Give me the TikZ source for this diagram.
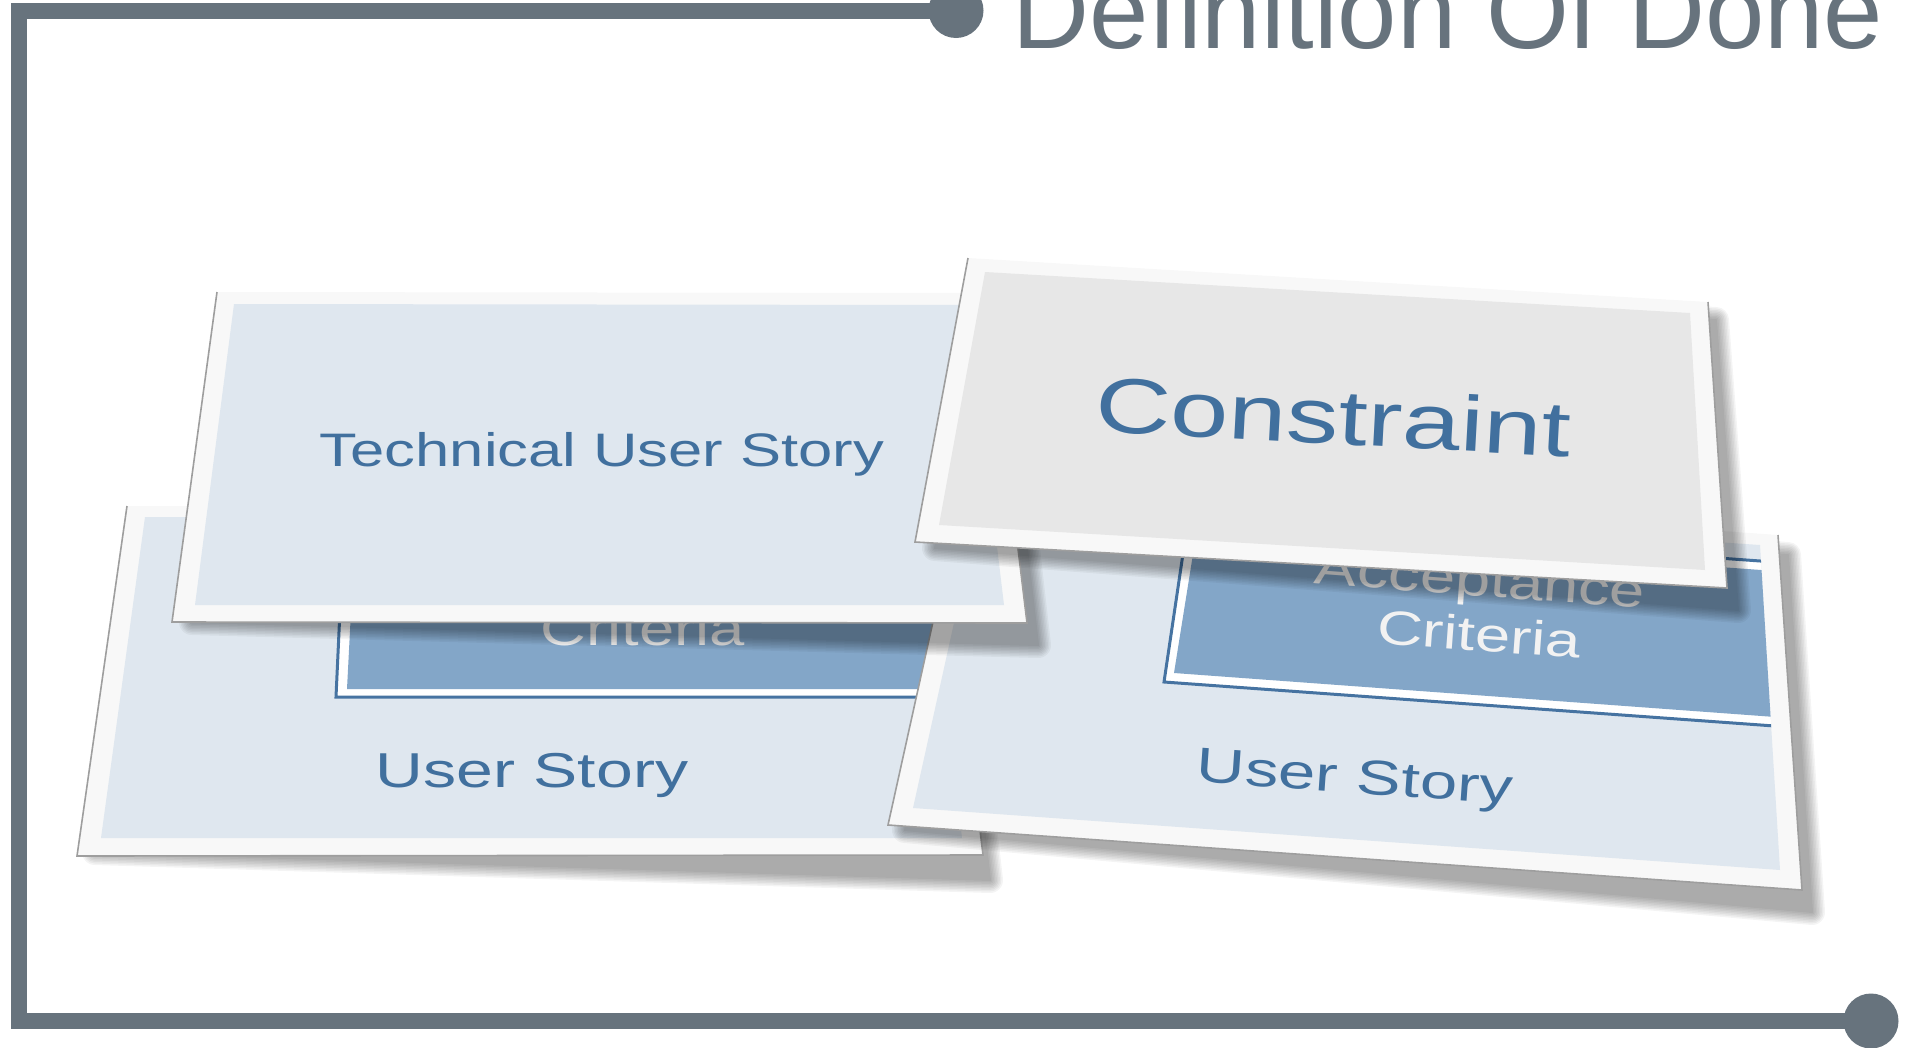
\documentclass[tikz,border=0pt]{standalone}
\usepackage{fontspec}
\setmainfont{Liberation Sans}
\usetikzlibrary{positioning}

\definecolor{frameGray}{HTML}{67737D}
\definecolor{cardEdge}{HTML}{F8F8F8}
\definecolor{cardBlue}{HTML}{DFE7EF}
\definecolor{cardGray}{HTML}{E7E7E7}
\definecolor{boxBlue}{HTML}{83A6C8}
\definecolor{boxLine}{HTML}{4673A1}
\definecolor{storyBlue}{HTML}{41709E}
\definecolor{boxText}{HTML}{F2F2F2}

\newcommand\cardShadow[1]{%
  \foreach \w in {2,5,...,26} {%
    \begin{scope}[transparency group, opacity=0.045]
      \filldraw[black, line width=\w pt, line join=round] #1;
    \end{scope}}}

\begin{document}
\begin{tikzpicture}[x=1pt, y=-1pt,
  frameLine/.style={draw=frameGray, line width=16pt},
  frameDot/.style={circle, fill=frameGray, inner sep=0pt, minimum size=55pt},
  cardRimEdge/.style={draw=black!38, line width=1.6pt},
  boxFrame/.style={fill=white, draw=boxLine, line width=3pt},
  storyText/.style={text=storyBlue, inner sep=0pt, anchor=base,
    font=\fontsize{49}{52}\selectfont},
  criteriaText/.style={text=boxText, inner sep=0pt, anchor=base,
    font=\fontsize{48}{52}\selectfont},
  titleText/.style={text=frameGray, inner sep=0pt, anchor=base west,
    font=\fontsize{106.6}{110}\selectfont}]
  \useasboundingbox (0,0) rectangle (1919,1047);

  \coordinate (topEnd) at (956,10.5);
  \coordinate (frameTopLeft) at (19,10.5);
  \coordinate (frameBottomLeft) at (19,1021);
  \coordinate (bottomEnd) at (1871,1021);
  \draw[frameLine] (topEnd) -- (frameTopLeft) -- (frameBottomLeft) -- (bottomEnd);
  \node[frameDot] (topDot) at (topEnd) {};
  \node[frameDot] (bottomDot) at (bottomEnd) {};
  \node[titleText] (title) at (1012,48) {Definition Of Done};

  \cardShadow{(150,530) -- (950,530) -- (990,880) -- (95,852) -- cycle}
  \fill[cardEdge] (127,506) -- (941,506) -- (983,855) -- (77,856) -- cycle;
  \draw[cardRimEdge] (127,506) -- (77,856) -- (983,855) -- (941,506);
  \fill[cardBlue] (145,517) -- (923,517) -- (962,838) -- (101,838) -- cycle;
  \begin{scope}
    \clip (145,517) -- (923,517) -- (962,838) -- (101,838) -- cycle;
    \filldraw[boxFrame] (343,545) -- (1000,545) -- (1000,697) -- (336,697) -- cycle;
    \fill[boxBlue] (354,553) -- (1000,553) -- (1000,689) -- (347,689) -- cycle;
  \end{scope}
  \node[criteriaText, xscale=1.32] (criteriaLeft) at (643,645) {Criteria};
  \node[storyText, xscale=1.35] (storyLeft) at (532,787) {User Story};

  \cardShadow{(990,500) -- (1788,555) -- (1812,912) -- (905,830) -- cycle}
  \fill[cardEdge] (965,477) -- (1778,535) -- (1802,890) -- (888,825) -- cycle;
  \draw[cardRimEdge] (965,477) -- (888,825) -- (1802,890) -- (1778,535);
  \fill[cardBlue] (983,492) -- (1760,545) -- (1780,870) -- (913,808) -- cycle;
  \begin{scope}
    \clip (983,492) -- (1760,545) -- (1780,870) -- (913,808) -- cycle;
    \filldraw[boxFrame] (1188,520) -- (1830,566) -- (1830,730) -- (1164,682) -- cycle;
    \fill[boxBlue] (1197,529) -- (1830,575) -- (1830,721) -- (1174,673) -- cycle;
  \end{scope}
  \node[criteriaText, rotate=-4.2, xscale=1.32] (acceptRight) at (1479,596) {Acceptance};
  \node[criteriaText, rotate=-4.2, xscale=1.32] (criteriaRight) at (1478,651) {Criteria};
  \node[storyText, rotate=-4, xscale=1.37] (storyRight) at (1354,793) {User Story};

  \cardShadow{(240,315) -- (1000,315) -- (1038,645) -- (192,622) -- cycle}
  \fill[cardEdge] (217,292) -- (987,293) -- (1027,623) -- (172,622) -- cycle;
  \draw[cardRimEdge] (217,292) -- (172,622) -- (1027,623) -- (987,293);
  \fill[cardBlue] (234,304) -- (968,305) -- (1004,605) -- (195,605) -- cycle;
  \node[storyText, xscale=1.31, font=\fontsize{47}{50}\selectfont] (technicalStory)
    at (602,466) {Technical User Story};

  \cardShadow{(990,280) -- (1716,320) -- (1738,610) -- (935,548) -- cycle}
  \fill[cardEdge] (968,258) -- (1708,302) -- (1727,588) -- (915,542) -- cycle;
  \draw[cardRimEdge] (968,258) -- (915,542) -- (1727,588) -- (1708,302);
  \fill[cardGray] (985,272) -- (1690,313) -- (1705,570) -- (939,525) -- cycle;
  \node[storyText, rotate=-3.1, xscale=1.34, font=\fontsize{78}{80}\selectfont]
    (constraintText) at (1332,444) {Constraint};
\end{tikzpicture}
\end{document}
